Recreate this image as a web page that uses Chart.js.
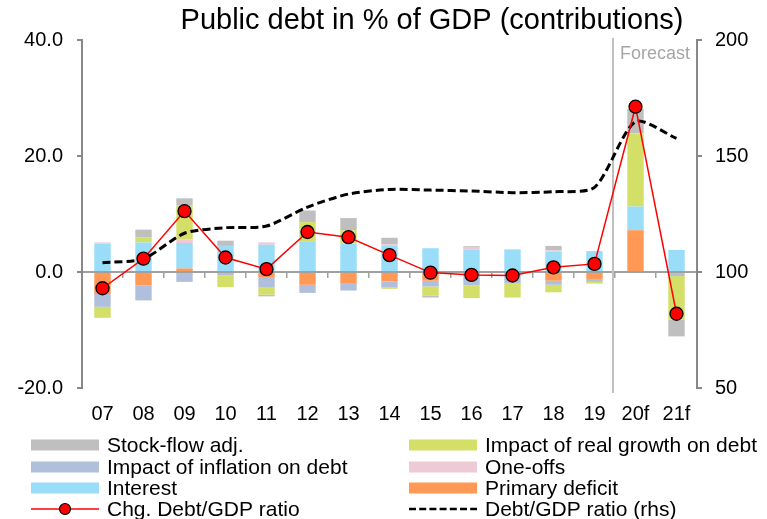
<!DOCTYPE html>
<html>
<head>
<meta charset="utf-8">
<script src="https://cdn.jsdelivr.net/npm/chart.js@4.4.1/dist/chart.umd.min.js"></script>
<style>
html,body{margin:0;padding:0;background:#fff;}
#wrap{width:767px;height:519px;position:relative;}
</style>
</head>
<body>
<div id="wrap"><canvas id="c" width="767" height="519"></canvas></div>
<script>
const title = 'Public debt in % of GDP (contributions)';
const categories = ['07','08','09','10','11','12','13','14','15','16','17','18','19','20f','21f'];
const primaryDeficit = [-3.8, -2.3, 0.6, 0, -1.0, -2.2, -1.9, -1.6, -1.5, -0.5, 0, -1.5, -1.2, 7.2, 0];
const interest       = [4.9, 5.1, 4.4, 4.5, 4.7, 5.2, 4.9, 4.5, 4.1, 3.9, 3.9, 3.5, 3.6, 4.1, 3.8];
const inflation      = [-2.2, -2.6, -1.7, -0.6, -1.7, -1.4, -1.3, -1.0, -1.0, -1.8, -2.0, -0.7, -0.5, 0, -0.7];
const oneOffs        = [0.2, 0, 0.6, 0, 0.4, 0, 0, 0.3, 0, 0.3, 0, 0.2, 0, 0, 0];
const realGrowth     = [-1.9, 0.9, 5.9, -2.0, -1.2, 3.4, 2.3, -0.3, -1.6, -2.2, -2.4, -1.3, -0.3, 12.6, -7.5];
const stockFlow      = [0, 1.3, 1.2, 0.9, -0.3, 2.0, 2.1, 1.1, -0.3, 0.25, 0, 0.8, 0, 4.2, -2.9];
const chgDebt        = [-2.8, 2.3, 10.5, 2.5, 0.5, 6.9, 6.0, 2.9, -0.1, -0.5, -0.6, 0.8, 1.4, 28.5, -7.2];
const debtRatio      = [104.0, 105.7, 116.7, 119.1, 119.8, 128.0, 133.6, 135.6, 135.3, 134.9, 134.2, 134.6, 136.5, 164.8, 157.6];
const leftTicks = [-20, 0, 20, 40];
const rightTicks = [50, 100, 150, 200];
const forecastLabel = 'Forecast';
const forecastAfterIndex = 12;

const C = {
  gray:'#BFBFBF', infl:'#B0C0DC', interest:'#99DDF9', pink:'#EDCAD6',
  green:'#D3DF66', orange:'#FF9955', red:'#FF0000'
};
const FONT = '"Liberation Sans", Arial, sans-serif';

function bar(label, data, color){
  return {type:'bar', label, data, backgroundColor:color, borderWidth:0,
    categoryPercentage:0.4, barPercentage:1.0, stack:'bars', order:2, yAxisID:'y', xAxisID:'x'};
}

const datasets = [
  bar('Primary deficit', primaryDeficit, C.orange),
  bar('Interest', interest, C.interest),
  bar('Impact of inflation on debt', inflation, C.infl),
  bar('One-offs', oneOffs, C.pink),
  bar('Impact of real growth on debt', realGrowth, C.green),
  bar('Stock-flow adj.', stockFlow, C.gray),
  {type:'line', label:'Debt/GDP ratio (rhs)', data:debtRatio, yAxisID:'y1', xAxisID:'x',
    borderColor:'#000', borderWidth:3, borderDash:[8,4], pointRadius:0, tension:0.25,
    fill:false, order:1},
  {type:'line', label:'Chg. Debt/GDP ratio', data:chgDebt, yAxisID:'y', xAxisID:'x', stack:'chg',
    borderColor:C.red, borderWidth:1.5, pointRadius:6.5, pointBackgroundColor:C.red,
    pointBorderColor:'#000', pointBorderWidth:1.3, tension:0, fill:false, order:0}
];

const legendLeft = ['Stock-flow adj.', 'Impact of inflation on debt', 'Interest', 'Chg. Debt/GDP ratio'];
const legendRight = ['Impact of real growth on debt', 'One-offs', 'Primary deficit', 'Debt/GDP ratio (rhs)'];

const extras = {
  id:'extras',
  beforeDatasetsDraw(chart){
    const ctx = chart.ctx, xs = chart.scales.x, a = chart.chartArea;
    const fx = xs.getPixelForValue(forecastAfterIndex + 0.5) - 2;
    ctx.save();
    ctx.strokeStyle = '#C0C0C0'; ctx.lineWidth = 2;
    ctx.beginPath(); ctx.moveTo(fx, a.top - 2); ctx.lineTo(fx, a.bottom + 5); ctx.stroke();
    ctx.fillStyle = '#A6A6A6'; ctx.font = '18px ' + FONT;
    ctx.textAlign = 'left'; ctx.textBaseline = 'middle';
    ctx.fillText(forecastLabel, fx + 7, a.top + 14);
    ctx.restore();
  },
  afterDraw(chart){
    const ctx = chart.ctx;
    ctx.save();
    ctx.fillStyle = '#000'; ctx.font = '29px ' + FONT;
    ctx.textAlign = 'center'; ctx.textBaseline = 'alphabetic';
    ctx.fillText(title, 432, 29);
    const rowsY = [445, 467, 488, 509];
    const cols = [{labels:legendLeft, x:31}, {labels:legendRight, x:409}];
    ctx.font = '21px ' + FONT; ctx.textBaseline = 'middle'; ctx.textAlign = 'left';
    cols.forEach(col => {
      col.labels.forEach((lab, i) => {
        const ds = chart.data.datasets.find(d => d.label === lab);
        const y = rowsY[i], x = col.x, w = 68;
        if (ds.type === 'bar') {
          ctx.fillStyle = ds.backgroundColor;
          ctx.fillRect(x, y - 5.5, w, 11);
        } else if (ds.borderDash) {
          ctx.strokeStyle = '#000'; ctx.lineWidth = 2.5; ctx.setLineDash([7,3.2]);
          ctx.beginPath(); ctx.moveTo(x, y); ctx.lineTo(x + w, y); ctx.stroke();
          ctx.setLineDash([]);
        } else {
          ctx.strokeStyle = C.red; ctx.lineWidth = 1.5;
          ctx.beginPath(); ctx.moveTo(x, y); ctx.lineTo(x + w, y); ctx.stroke();
          ctx.beginPath(); ctx.arc(x + w/2, y, 5.5, 0, Math.PI*2);
          ctx.fillStyle = C.red; ctx.fill(); ctx.strokeStyle = '#000'; ctx.lineWidth = 1.2; ctx.stroke();
        }
        ctx.fillStyle = '#000';
        ctx.fillText(lab, x + w + 8, y + 1);
      });
    });
    ctx.restore();
  }
};

new Chart(document.getElementById('c'), {
  data:{labels:categories, datasets},
  options:{
    responsive:false, animation:false, events:[],
    layout:{padding:{top:40, left:0, right:0, bottom:0}},
    plugins:{legend:{display:false}, title:{display:false}, tooltip:{enabled:false}},
    scales:{
      x:{type:'category', stacked:true, offset:true, position:'bottom',
        grid:{display:false, drawTicks:false}, border:{display:false},
        ticks:{color:'#000', font:{family:FONT, size:20}, padding:14, maxRotation:0, autoSkip:false},
        afterFit(s){ s.height = 131; }},
      x2:{type:'category', labels:categories, offset:true, position:{y:0},
        grid:{offset:true, drawOnChartArea:false, drawTicks:true, tickLength:5, color:'#A0A0A0', lineWidth:1.5},
        border:{display:true, color:'#A0A0A0', width:2},
        ticks:{display:false}},
      y:{type:'linear', position:'left', stacked:true, min:-20, max:40,
        afterBuildTicks(s){ s.ticks = leftTicks.map(v => ({value:v})); },
        grid:{drawOnChartArea:false, drawTicks:true, tickLength:5, color:'#888', lineWidth:2},
        border:{display:true, color:'#888', width:2},
        ticks:{color:'#000', font:{family:FONT, size:20}, padding:14, callback:v => v.toFixed(1)},
        afterFit(s){ s.width = 82; }},
      y1:{type:'linear', position:'right', min:50, max:200,
        afterBuildTicks(s){ s.ticks = rightTicks.map(v => ({value:v})); },
        grid:{drawOnChartArea:false, drawTicks:true, tickLength:5, color:'#888', lineWidth:2},
        border:{display:true, color:'#888', width:2},
        ticks:{color:'#000', font:{family:FONT, size:20}, padding:13, callback:v => String(v)},
        afterFit(s){ s.width = 70; }}
    }
  },
  plugins:[extras]
});
</script>
</body>
</html>
